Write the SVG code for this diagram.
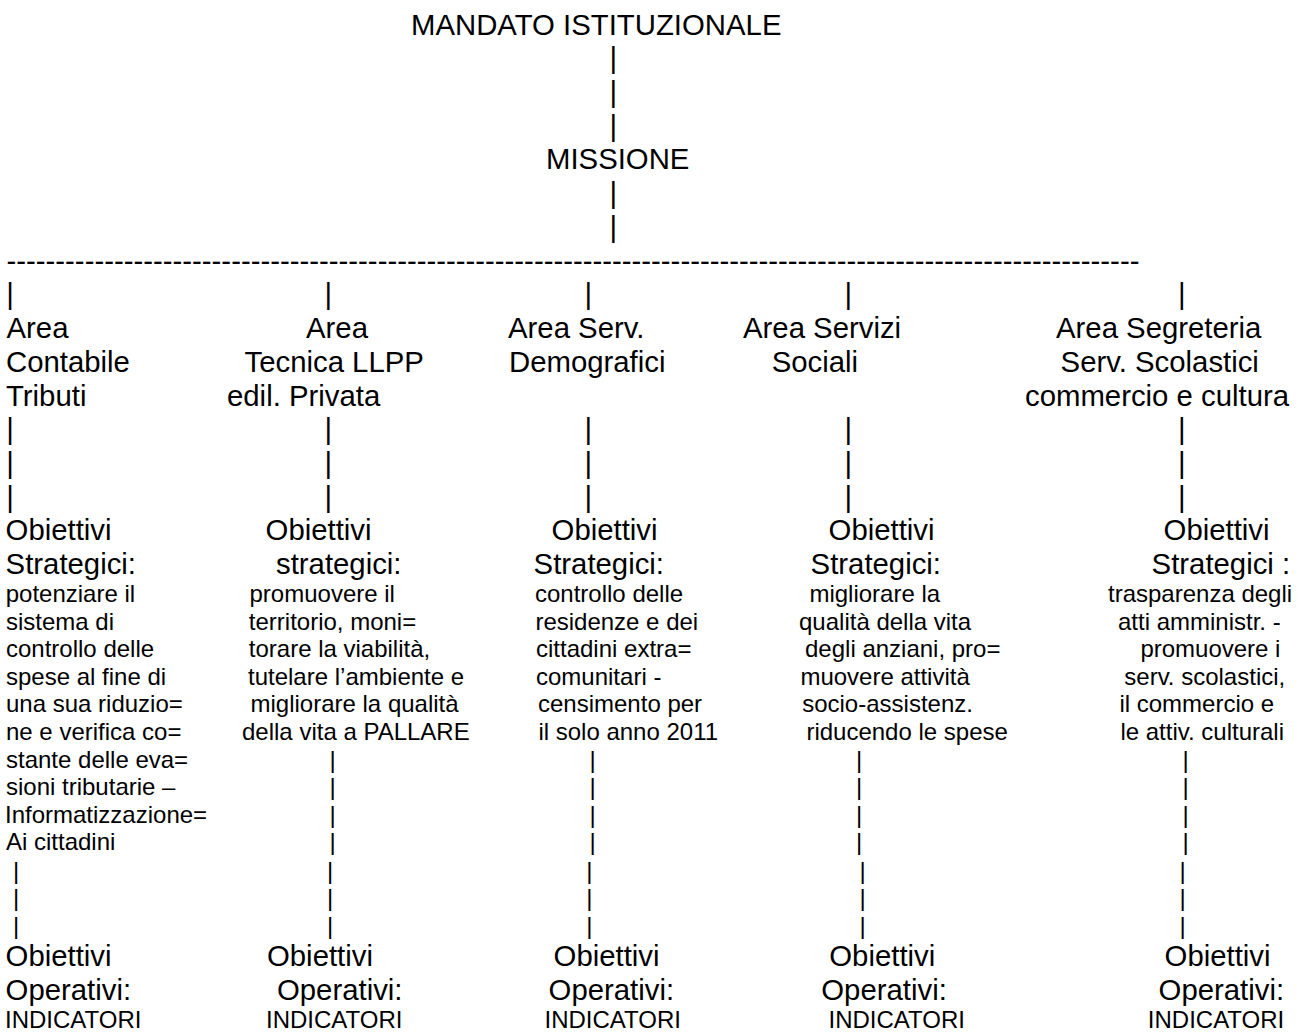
<svg xmlns="http://www.w3.org/2000/svg" width="1303" height="1032" viewBox="0 0 1303 1032">
<style>
text{font-family:"Liberation Sans",Arial,sans-serif;fill:#000}
.L{font-size:29.33px}
.S{font-size:24px}
.p{text-anchor:middle}
</style>
<rect width="1303" height="1032" fill="#fff"/>
<g id="mandato"><text class="L" x="411" y="34.5">MANDATO ISTITUZIONALE</text></g>
<g id="missione"><text class="L" x="546" y="169.4">MISSIONE</text></g>

<g id="area-contabile" class="L">
<text x="6.5" y="338">Area</text>
<text x="6" y="371.8">Contabile</text>
<text x="6" y="405.5">Tributi</text>
</g>
<g id="area-tecnica" class="L">
<text x="306" y="338">Area</text>
<text x="244.5" y="371.8">Tecnica LLPP</text>
<text x="227" y="405.5">edil. Privata</text>
</g>
<g id="area-demografici" class="L">
<text x="508" y="338">Area Serv.</text>
<text x="509" y="371.8">Demografici</text>
</g>
<g id="area-sociali" class="L">
<text x="743" y="338">Area Servizi</text>
<text x="771.7" y="371.8">Sociali</text>
</g>
<g id="area-segreteria" class="L">
<text x="1056" y="338">Area Segreteria</text>
<text x="1060.6" y="371.8">Serv. Scolastici</text>
<text x="1025" y="405.5">commercio e cultura</text>
</g>

<g id="strategici-1">
<text class="L" x="5.6" y="540.4">Obiettivi</text>
<text class="L" x="5.6" y="574.1">Strategici:</text>
<g class="S">
<text x="5.7" y="602">potenziare il</text>
<text x="6" y="629.6">sistema di</text>
<text x="6" y="657.2">controllo delle</text>
<text x="6" y="684.8">spese al fine di</text>
<text x="6" y="712.4">una sua riduzio=</text>
<text x="6" y="740">ne e verifica co=</text>
<text x="6" y="767.6">stante delle eva=</text>
<text x="6" y="795.2">sioni tributarie –</text>
<text x="5" y="822.8">Informatizzazione=</text>
<text x="6" y="850.4">Ai cittadini</text>
</g>
</g>
<g id="strategici-2">
<text class="L" x="265.6" y="540.4">Obiettivi</text>
<text class="L" x="276" y="574.1">strategici:</text>
<g class="S">
<text x="249.5" y="602">promuovere il</text>
<text x="248.8" y="629.6">territorio, moni=</text>
<text x="248.8" y="657.2">torare la viabilità,</text>
<text x="248" y="684.8">tutelare l’ambiente e</text>
<text x="250.5" y="712.4">migliorare la qualità</text>
<text x="242" y="740">della vita a PALLARE</text>
</g>
</g>
<g id="strategici-3">
<text class="L" x="551.6" y="540.4">Obiettivi</text>
<text class="L" x="533.6" y="574.1">Strategici:</text>
<g class="S">
<text x="535" y="602">controllo delle</text>
<text x="535.4" y="629.6">residenze e dei</text>
<text x="536" y="657.2">cittadini extra=</text>
<text x="536" y="684.8">comunitari -</text>
<text x="538" y="712.4">censimento per</text>
<text x="538.4" y="740">il solo anno 2011</text>
</g>
</g>
<g id="strategici-4">
<text class="L" x="828.6" y="540.4">Obiettivi</text>
<text class="L" x="810.6" y="574.1">Strategici:</text>
<g class="S">
<text x="809.4" y="602">migliorare la</text>
<text x="799" y="629.6">qualità della vita</text>
<text x="805" y="657.2">degli anziani, pro=</text>
<text x="800.4" y="684.8">muovere attività</text>
<text x="802.2" y="712.4">socio-assistenz.</text>
<text x="806.4" y="740">riducendo le spese</text>
</g>
</g>
<g id="strategici-5">
<text class="L" x="1163.6" y="540.4">Obiettivi</text>
<text class="L" x="1151.6" y="574.1">Strategici :</text>
<g class="S">
<text x="1108" y="602">trasparenza degli</text>
<text x="1118" y="629.6">atti amministr. -</text>
<text x="1140.4" y="657.2">promuovere i</text>
<text x="1124.3" y="684.8">serv. scolastici,</text>
<text x="1119.4" y="712.4">il commercio e</text>
<text x="1120.4" y="740">le attiv. culturali</text>
</g>
</g>

<g id="operativi-1">
<text class="L" x="5.6" y="966">Obiettivi</text>
<text class="L" x="5.6" y="999.5">Operativi:</text>
<text class="S" x="5" y="1028">INDICATORI</text>
</g>
<g id="operativi-2">
<text class="L" x="267" y="966">Obiettivi</text>
<text class="L" x="277" y="999.5">Operativi:</text>
<text class="S" x="266" y="1028">INDICATORI</text>
</g>
<g id="operativi-3">
<text class="L" x="553.6" y="966">Obiettivi</text>
<text class="L" x="548.6" y="999.5">Operativi:</text>
<text class="S" x="544.5" y="1028">INDICATORI</text>
</g>
<g id="operativi-4">
<text class="L" x="829.3" y="966">Obiettivi</text>
<text class="L" x="821.3" y="999.5">Operativi:</text>
<text class="S" x="828.5" y="1028">INDICATORI</text>
</g>
<g id="operativi-5">
<text class="L" x="1164.6" y="966">Obiettivi</text>
<text class="L" x="1158.6" y="999.5">Operativi:</text>
<text class="S" x="1147.8" y="1028">INDICATORI</text>
</g>

<g id="connectors">
<g class="L p">
<text x="613.3" y="68.2">|</text>
<text x="613.3" y="102">|</text>
<text x="613.3" y="135.7">|</text>
<text x="613.3" y="203.2">|</text>
<text x="613.3" y="236.9">|</text>
</g>
<text class="L" x="6.5" y="270.6">--------------------------------------------------------------------------------------------------------------------</text>
<g class="L p">
<text x="10" y="304.3">|</text>
<text x="328.3" y="304.3">|</text>
<text x="588.3" y="304.3">|</text>
<text x="848.3" y="304.3">|</text>
<text x="1181.7" y="304.3">|</text>
<text x="10" y="439.2">|</text><text x="10" y="473">|</text><text x="10" y="506.7">|</text>
<text x="328.3" y="439.2">|</text><text x="328.3" y="473">|</text><text x="328.3" y="506.7">|</text>
<text x="588.3" y="439.2">|</text><text x="588.3" y="473">|</text><text x="588.3" y="506.7">|</text>
<text x="848.3" y="439.2">|</text><text x="848.3" y="473">|</text><text x="848.3" y="506.7">|</text>
<text x="1181.7" y="439.2">|</text><text x="1181.7" y="473">|</text><text x="1181.7" y="506.7">|</text>
</g>
<g class="S p">
<text x="16" y="878.5">|</text><text x="16" y="906">|</text><text x="16" y="933.5">|</text>
<text x="332.5" y="767.6">|</text><text x="332.5" y="795.2">|</text><text x="332.5" y="822.8">|</text><text x="332.5" y="850.4">|</text>
<text x="330" y="878.5">|</text><text x="330" y="906">|</text><text x="330" y="933.5">|</text>
<text x="592.7" y="767.6">|</text><text x="592.7" y="795.2">|</text><text x="592.7" y="822.8">|</text><text x="592.7" y="850.4">|</text>
<text x="589.3" y="878.5">|</text><text x="589.3" y="906">|</text><text x="589.3" y="933.5">|</text>
<text x="859" y="767.6">|</text><text x="859" y="795.2">|</text><text x="859" y="822.8">|</text><text x="859" y="850.4">|</text>
<text x="862.7" y="878.5">|</text><text x="862.7" y="906">|</text><text x="862.7" y="933.5">|</text>
<text x="1185.5" y="767.6">|</text><text x="1185.5" y="795.2">|</text><text x="1185.5" y="822.8">|</text><text x="1185.5" y="850.4">|</text>
<text x="1182.7" y="878.5">|</text><text x="1182.7" y="906">|</text><text x="1182.7" y="933.5">|</text>
</g>
</g>
</svg>
